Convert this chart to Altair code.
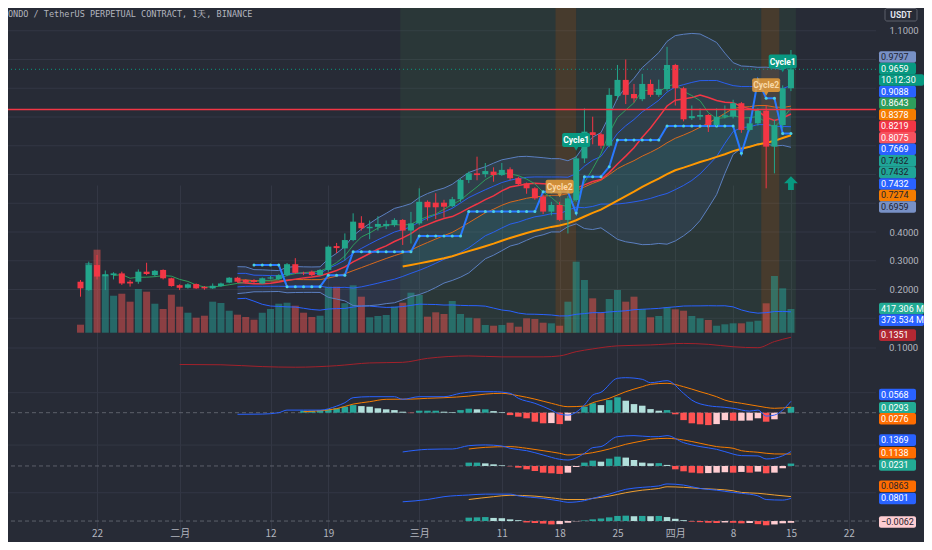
import altair as alt
import pandas as pd

# ------------------------------------------------------------------ data
TITLE = "ONDO / TetherUS PERPETUAL CONTRACT, 1天, BINANCE"
CURRENCY = "USDT"

opens = [0.227, 0.198, 0.285, 0.246, 0.250, 0.256, 0.227, 0.227, 0.262, 0.250,
         0.268, 0.239, 0.215, 0.206, 0.219, 0.209, 0.204, 0.212, 0.224, 0.241,
         0.233, 0.232, 0.221, 0.238, 0.236, 0.250, 0.288, 0.258, 0.262, 0.250,
         0.268, 0.351, 0.343, 0.372, 0.432, 0.413, 0.418, 0.420, 0.424, 0.442,
         0.405, 0.430, 0.505, 0.502, 0.502, 0.490, 0.514, 0.581, 0.604, 0.601,
         0.610, 0.598, 0.618, 0.587, 0.569, 0.552, 0.523, 0.471, 0.494, 0.442,
         0.511, 0.656, 0.747, 0.740, 0.700, 0.873, 0.929, 0.880, 0.862, 0.915,
         0.877, 0.897, 0.981, 0.900, 0.796, 0.801, 0.807, 0.772, 0.801, 0.801,
         0.848, 0.755, 0.778, 0.822, 0.697, 0.772, 0.900]
closes = [0.204, 0.285, 0.245, 0.253, 0.256, 0.221, 0.221, 0.262, 0.254, 0.265,
          0.239, 0.212, 0.206, 0.218, 0.204, 0.204, 0.213, 0.221, 0.241, 0.227,
          0.224, 0.226, 0.239, 0.242, 0.250, 0.288, 0.258, 0.256, 0.250, 0.268,
          0.349, 0.344, 0.372, 0.436, 0.413, 0.418, 0.428, 0.428, 0.442, 0.405,
          0.430, 0.505, 0.486, 0.486, 0.488, 0.514, 0.581, 0.604, 0.598, 0.612,
          0.598, 0.616, 0.587, 0.567, 0.552, 0.517, 0.471, 0.494, 0.442, 0.517,
          0.656, 0.749, 0.737, 0.700, 0.877, 0.929, 0.877, 0.865, 0.915, 0.877,
          0.897, 0.981, 0.900, 0.792, 0.803, 0.807, 0.772, 0.801, 0.806, 0.848,
          0.755, 0.778, 0.822, 0.697, 0.772, 0.900, 0.966]
highs = [0.233, 0.297, 0.320, 0.266, 0.260, 0.262, 0.233, 0.270, 0.293, 0.268,
         0.270, 0.241, 0.218, 0.222, 0.221, 0.212, 0.221, 0.224, 0.243, 0.244,
         0.236, 0.236, 0.242, 0.247, 0.253, 0.292, 0.309, 0.262, 0.266, 0.271,
         0.353, 0.362, 0.395, 0.465, 0.455, 0.440, 0.455, 0.440, 0.448, 0.445,
         0.470, 0.552, 0.510, 0.535, 0.512, 0.522, 0.586, 0.610, 0.662, 0.640,
         0.625, 0.640, 0.625, 0.592, 0.572, 0.556, 0.530, 0.505, 0.505, 0.525,
         0.665, 0.830, 0.801, 0.745, 0.900, 0.981, 1.000, 0.915, 0.950, 0.930,
         0.930, 1.044, 0.985, 0.905, 0.840, 0.830, 0.810, 0.830, 0.840, 0.860,
         0.852, 0.800, 0.830, 0.842, 0.790, 0.910, 1.033]
lows = [0.175, 0.195, 0.235, 0.198, 0.235, 0.216, 0.210, 0.220, 0.250, 0.245,
        0.235, 0.210, 0.198, 0.203, 0.202, 0.199, 0.202, 0.209, 0.222, 0.224,
        0.221, 0.222, 0.219, 0.235, 0.233, 0.246, 0.255, 0.250, 0.246, 0.248,
        0.262, 0.327, 0.302, 0.368, 0.405, 0.375, 0.405, 0.410, 0.418, 0.355,
        0.360, 0.425, 0.440, 0.445, 0.450, 0.486, 0.505, 0.570, 0.580, 0.590,
        0.575, 0.595, 0.580, 0.562, 0.533, 0.512, 0.462, 0.458, 0.438, 0.395,
        0.505, 0.640, 0.705, 0.690, 0.695, 0.860, 0.845, 0.850, 0.855, 0.870,
        0.870, 0.890, 0.840, 0.785, 0.790, 0.790, 0.748, 0.768, 0.795, 0.795,
        0.745, 0.750, 0.770, 0.552, 0.604, 0.760, 0.890]
volumes = [141, 1227, 1461, 1021, 651, 686, 546, 769, 722, 510,
           417, 669, 458, 352, 264, 299, 546, 523, 387, 317,
           276, 229, 352, 417, 510, 528, 475, 352, 276, 299,
           810, 810, 519, 834, 634, 271, 294, 312, 458, 528,
           704, 664, 282, 359, 329, 558, 329, 264, 253, 136,
           123, 136, 176, 106, 253, 241, 176, 165, 123, 546,
           1250, 928, 605, 352, 593, 752, 546, 634, 417, 271,
           294, 447, 412, 387, 294, 253, 224, 123, 148, 165,
           165, 194, 211, 517, 998, 781, 417.3]

date_ticks = [2, 12, 23, 30, 41, 51, 58, 65, 72, 79, 86, 93]
date_labels = ["22", "二月", "12", "19", "三月", "11", "18", "25", "四月", "8", "15", "22"]
price_ticks = [0.1, 0.2, 0.3, 0.4, 0.5, 0.6, 0.7, 0.8, 0.9, 1.0, 1.1]
price_labels_shown = [0.2, 0.3, 0.4, 1.1]

band_start = [38.7, 57.5, 60.0, 82.4, 84.6]
band_end = [57.5, 60.0, 82.4, 84.6, 86.6]
band_kind = ["cycle", "turn", "cycle", "turn", "cycle"]

step_first = 21
step_values = [0.285, 0.285, 0.285, 0.285, 0.210, 0.210, 0.210, 0.210, 0.210,
               0.250, 0.250, 0.250, 0.331, 0.331, 0.331, 0.331, 0.331, 0.331,
               0.331, 0.331, 0.386, 0.386, 0.386, 0.386, 0.386, 0.386, 0.471,
               0.471, 0.471, 0.471, 0.471, 0.471, 0.471, 0.471, 0.471, 0.540,
               0.540, 0.540, 0.540, 0.466, 0.592, 0.592, 0.592, 0.627, 0.720,
               0.720, 0.720, 0.720, 0.720, 0.720, 0.769, 0.769, 0.769, 0.769,
               0.769, 0.769, 0.769, 0.769, 0.769, 0.674, 0.766, 0.929, 0.865,
               0.865, 0.743, 0.743]

resistance_level = [0.826]
last_price = [0.9659]

cycle_text = ["Cycle1", "Cycle1", "Cycle2", "Cycle2"]
cycle_i = [60, 85, 58, 83]
cycle_price = [0.720, 0.993, 0.558, 0.911]

arrow_i = [86]
arrow_price = [0.57]

osc_i = [12, 17, 22, 26, 31, 35, 39, 42, 47, 51, 56, 58, 60, 62, 65, 69, 73, 76, 79, 82, 84, 86]
osc_v = [0.046, 0.045, 0.039, 0.037, 0.042, 0.051, 0.053, 0.066, 0.074, 0.071, 0.071,
         0.074, 0.088, 0.097, 0.107, 0.110, 0.115, 0.112, 0.104, 0.101, 0.121, 0.1351]
osc_grid = [0.1]

m1_hist_first = 27
m1_hist = [0.010, 0.010, 0.013, 0.018, 0.022, 0.030, 0.038, 0.033, 0.030, 0.022,
           0.017, 0.013, 0.005, -0.002, 0.010, 0.010, 0.010, 0.005, 0.003, 0.013,
           0.020, 0.017, 0.017, 0.008, 0.003, -0.012, -0.020, -0.028, -0.045, -0.053,
           -0.052, -0.057, -0.040, -0.002, 0.030, 0.047, 0.038, 0.063, 0.077, 0.060,
           0.043, 0.035, 0.018, 0.010, 0.013, -0.008, -0.037, -0.053, -0.058, -0.062,
           -0.057, -0.037, -0.040, -0.040, -0.039, -0.028, -0.045, -0.033, -0.003, 0.029]
m1_fast_i = [19, 22, 24, 25, 27, 29, 31, 32, 33, 35, 38, 39, 41, 44, 46, 48, 50, 52, 53, 55, 57,
             58, 59, 61, 62, 63, 65, 66, 68, 69, 71, 73, 74, 76, 78, 79, 81, 82, 83, 84, 86]
m1_fast_v = [-0.008, -0.007, 0.0, 0.013, 0.013, 0.013, 0.033, 0.05, 0.075, 0.08, 0.08,
             0.067, 0.08, 0.08, 0.097, 0.105, 0.105, 0.097, 0.072, 0.047, 0.013, -0.007,
             -0.012, 0.038, 0.088, 0.102, 0.172, 0.175, 0.167, 0.15, 0.16, 0.097, 0.063,
             0.035, 0.027, 0.022, 0.008, 0.013, -0.017, -0.012, 0.0568]
m1_slow_i = [27, 29, 31, 33, 35, 37, 40, 42, 44, 47, 49, 51, 53, 55, 57, 59, 61, 62, 64, 66,
             68, 69, 71, 73, 75, 77, 78, 80, 82, 84, 86]
m1_slow_v = [0.005, 0.01, 0.02, 0.043, 0.055, 0.067, 0.068, 0.072, 0.075, 0.083, 0.093,
             0.097, 0.085, 0.068, 0.047, 0.03, 0.033, 0.05, 0.072, 0.105, 0.13, 0.142,
             0.147, 0.13, 0.105, 0.08, 0.063, 0.047, 0.033, 0.022, 0.0276]
m1_grid = [0.1]

m2_hist_first = 47
m2_hist = [0.032, 0.032, 0.025, 0.016, 0.006, -0.003, -0.016, -0.032, -0.048, -0.064,
           -0.070, -0.076, -0.064, -0.010, 0.032, 0.051, 0.041, 0.070, 0.089, 0.080,
           0.057, 0.032, 0.025, 0.027, 0.010, -0.032, -0.051, -0.064, -0.070, -0.068,
           -0.064, -0.060, -0.064, -0.057, -0.064, -0.054, -0.070, -0.064, -0.022, 0.0231]
m2_fast_i = [39, 42, 44, 45, 47, 49, 51, 52, 54, 56, 58, 59, 61, 62, 63, 65, 67, 69, 70, 71,
             73, 75, 77, 78, 80, 82, 83, 84, 86]
m2_fast_v = [0.134, 0.159, 0.162, 0.162, 0.194, 0.201, 0.191, 0.169, 0.146, 0.105, 0.064,
             0.057, 0.121, 0.175, 0.185, 0.280, 0.290, 0.280, 0.280, 0.290, 0.223, 0.185,
             0.159, 0.137, 0.099, 0.096, 0.067, 0.073, 0.1369]
m2_slow_i = [47, 49, 52, 54, 56, 58, 59, 61, 62, 64, 66, 68, 69, 71, 73, 75, 77, 79, 80, 82, 84, 86]
m2_slow_v = [0.162, 0.178, 0.185, 0.169, 0.146, 0.121, 0.105, 0.115, 0.127, 0.162, 0.207,
             0.239, 0.255, 0.264, 0.248, 0.217, 0.185, 0.169, 0.146, 0.131, 0.115, 0.1138]
m2_grid = [0.2]

m3_hist_first = 47
m3_hist = [0.012, 0.013, 0.014, 0.011, 0.010, 0.006, 0.003, -0.005, -0.007, -0.009,
           -0.012, -0.011, -0.006, -0.001, 0.002, 0.006, 0.009, 0.013, 0.018, 0.019,
           0.017, 0.018, 0.017, 0.018, 0.014, 0.008, 0.003, -0.002, -0.004, -0.006,
           -0.007, -0.005, -0.006, -0.008, -0.007, -0.011, -0.015, -0.012, -0.008, -0.0062]
m3_fast_i = [39, 42, 44, 47, 49, 52, 53, 56, 58, 59, 61, 62, 64, 66, 68, 70, 71, 73, 75, 77,
             79, 80, 82, 83, 85, 86]
m3_fast_v = [0.068, 0.076, 0.086, 0.092, 0.095, 0.095, 0.089, 0.08, 0.071, 0.066, 0.072,
             0.08, 0.095, 0.112, 0.119, 0.124, 0.131, 0.127, 0.115, 0.109, 0.101, 0.098,
             0.089, 0.076, 0.074, 0.0801]
m3_slow_i = [47, 50, 52, 55, 57, 59, 61, 62, 64, 66, 68, 70, 71, 73, 75, 77, 79, 80, 82, 84, 86]
m3_slow_v = [0.076, 0.086, 0.091, 0.088, 0.082, 0.076, 0.076, 0.08, 0.088, 0.1, 0.109,
             0.115, 0.121, 0.119, 0.115, 0.112, 0.107, 0.101, 0.098, 0.092, 0.0863]
m3_grid = [0.1]

tag_text = ["0.9797", "0.9659", "10:12:30", "0.9088", "0.8643", "0.8378", "0.8219",
            "0.8075", "0.7669", "0.7432", "0.7432", "0.7432", "0.7274", "0.6959",
            "417.306 M", "373.534 M", "0.1351", "0.0568", "0.0293", "0.0276",
            "0.1369", "0.1138", "0.0231", "0.0863", "0.0801", "\u22120.0062"]
tag_row = [0, 1, 2, 3, 4, 5, 6, 7, 8, 9, 10, 11, 12, 13,
           21.8, 22.8, 24.1, 29.25, 30.4, 31.35, 33.2, 34.3, 35.35, 37.2, 38.25, 40.3]
tag_bg = ["#7891c6", "#089981", "#089981", "#2962ff", "#2e9d5c", "#f57c00", "#f23645",
          "#f7525f", "#2962ff", "#1fa597", "#1fa597", "#2962ff", "#f57c00", "#7891c6",
          "#22ab94", "#2962ff", "#b22833", "#2962ff", "#22ab94", "#ff6d00",
          "#2962ff", "#ff6d00", "#22ab94", "#ff6d00", "#2962ff", "#ffcdd2"]
tag_fg = ["#1e222d", "#ffffff", "#ffffff", "#ffffff", "#ffffff", "#ffffff", "#ffffff",
          "#ffffff", "#ffffff", "#1e222d", "#1e222d", "#ffffff", "#1e222d", "#1e222d",
          "#ffffff", "#ffffff", "#ffffff", "#ffffff", "#ffffff", "#ffffff",
          "#ffffff", "#ffffff", "#ffffff", "#1e222d", "#ffffff", "#1e222d"]

# ------------------------------------------------------------------ styling
BG = "#272b36"
GRID = "#333744"
AXTXT = "#b2b5be"
FONT = "Roboto"
UP, DN = "#22a68b", "#f23645"
W, H = 868, 516

XS = alt.Scale(domain=[-8.173, 95.69], nice=False, zero=False)
label_expr = ("[" + ",".join("'%s'" % s for s in date_labels) + "][indexof(["
              + ",".join(str(v) for v in date_ticks) + "], datum.value)]")
XAX = alt.Axis(values=date_ticks, labelExpr=label_expr, grid=True, gridColor=GRID,
               domain=False, ticks=False, tickSize=0, labelColor=AXTXT,
               labelFont="Noto Sans CJK SC", labelFontSize=10, labelPadding=4,
               title=None, labelFlush=False, labelOverlap=False)


def X(f):
    return alt.X(f"{f}:Q", scale=XS, axis=XAX)


def sc(domain, rng):
    return alt.Scale(domain=domain, range=rng, nice=False, zero=False)


def Y(f, s):
    return alt.Y(f"{f}:Q", scale=s, axis=None)


PS = sc([0, 1.2], [339, -6])
VS = sc([0, 1760], [324.7, 224.7])
P2 = sc([0, 0.2], [370.5, 309.5])
P3 = sc([-0.1, 0.2], [424.7, 364.7])
P4 = sc([-0.2, 0.4], [478.9, 416.1])
P5 = sc([-0.05, 0.2], [527.2, 456.4])
SS = sc([0, 40], [49, 510.6])
srt = [alt.SortField("i", order="ascending")]

df = pd.DataFrame({"i": list(range(len(opens))), "o": opens, "h": highs, "l": lows,
                   "c": closes, "v": volumes})
base = alt.Chart(df).transform_calculate(
    dir="datum.c >= datum.o ? 'up' : 'down'", zero="0")
dir_color = alt.Color("dir:N", scale=alt.Scale(domain=["up", "down"], range=[UP, DN]), legend=None)
vol_color = alt.Color("dir:N", scale=alt.Scale(domain=["up", "down"], range=["#26a69a", "#ef5350"]), legend=None)

layers = []

# horizontal price grid
layers.append(alt.Chart(pd.DataFrame({"p": price_ticks})).mark_rule(color=GRID, strokeWidth=1).encode(
    y=Y("p", PS)))

# background cycle bands
band_df = pd.DataFrame({"s": band_start, "e": band_end, "k": band_kind})
layers.append(alt.Chart(band_df).mark_rect().encode(
    x=X("s"), x2="e:Q", y=alt.value(0), y2=alt.value(325),
    color=alt.Color("k:N", scale=alt.Scale(domain=["cycle", "turn"], range=["#4caf50", "#ff9800"]), legend=None),
    opacity=alt.Opacity("k:N", scale=alt.Scale(domain=["cycle", "turn"], range=[0.09, 0.15]), legend=None)))

# indicators
ind = (alt.Chart(df)
       .transform_window(sma5="mean(c)", frame=[-4, 0], sort=srt)
       .transform_window(sma12="mean(c)", frame=[-11, 0], sort=srt)
       .transform_window(sma20="mean(c)", sd20="stdevp(c)", frame=[-19, 0], sort=srt)
       .transform_window(sma40="mean(c)", frame=[-39, 0], sort=srt)
       .transform_window(vma="mean(v)", frame=[-19, 0], sort=srt)
       .transform_calculate(u2="datum.sma20 + 2*datum.sd20", l2="datum.sma20 - 2*datum.sd20",
                            u1="datum.sma20 + datum.sd20", l1="datum.sma20 - datum.sd20"))
ind19 = ind.transform_filter("datum.i >= 19")
ind39 = ind.transform_filter("datum.i >= 39")

layers.append(ind19.mark_area(color="#4f73b3", opacity=0.15).encode(x=X("i"), y=Y("u2", PS), y2="l2:Q"))
layers.append(ind39.mark_area(color="#26a69a", opacity=0.13).encode(x=X("i"), y=Y("sma20", PS), y2="sma40:Q"))

# volume
layers.append(base.mark_bar(size=7, opacity=0.5).encode(x=X("i"), y=Y("v", VS), y2="zero:Q", color=vol_color))
layers.append(ind19.mark_line(color="#2962ff", strokeWidth=1).encode(x=X("i"), y=Y("vma", VS)))

# bands / averages
layers.append(ind19.transform_fold(["u2", "l2"], as_=["k", "val"]).mark_line(
    color="#5b7fc0", strokeWidth=1).encode(x=X("i"), y=Y("val", PS), detail="k:N"))
layers.append(ind19.transform_fold(["u1", "l1"], as_=["k", "val"]).mark_line(
    color="#2962ff", strokeWidth=1, opacity=0.9).encode(x=X("i"), y=Y("val", PS), detail="k:N"))
layers.append(ind19.mark_line(color="#d9691c", strokeWidth=1).encode(x=X("i"), y=Y("sma20", PS)))
layers.append(ind39.mark_line(color="#ff9800", strokeWidth=2).encode(x=X("i"), y=Y("sma40", PS)))
layers.append(ind19.mark_line(color="#f23645", strokeWidth=1.5).encode(x=X("i"), y=Y("sma12", PS)))
layers.append(ind.transform_filter("datum.i >= 4").mark_line(color="#2e9d5c", strokeWidth=1).encode(
    x=X("i"), y=Y("sma5", PS)))

# stepped cycle line
step_df = pd.DataFrame({"i": list(range(step_first, step_first + len(step_values))), "s": step_values})
layers.append(alt.Chart(step_df).mark_line(color="#2979ff", strokeWidth=2).encode(x=X("i"), y=Y("s", PS)))
layers.append(alt.Chart(step_df).mark_point(filled=True, size=9, color="#4dd0e1", opacity=1).encode(
    x=X("i"), y=Y("s", PS)))

# candles
price_axis = alt.Axis(orient="right", values=price_labels_shown, format=".4f", grid=False,
                      domain=False, ticks=False, tickSize=0, labelColor=AXTXT, labelFont=FONT,
                      labelFontSize=9.5, labelPadding=13, title=None, labelOverlap=False,
                      labelFlush=False)
layers.append(base.mark_rule(strokeWidth=1).encode(x=X("i"), y=Y("l", PS), y2="h:Q", color=dir_color))
layers.append(base.mark_bar(size=6).encode(
    x=X("i"), y=alt.Y("o:Q", scale=PS, axis=price_axis), y2="c:Q", color=dir_color))

# horizontal lines
layers.append(alt.Chart(pd.DataFrame({"p": resistance_level})).mark_rule(
    color="#f23645", stroke="#f23645", strokeWidth=1.5).encode(y=Y("p", PS)))
layers.append(alt.Chart(pd.DataFrame({"p": last_price})).mark_rule(
    color="#089981", stroke="#089981", strokeWidth=1, strokeDash=[1, 3]).encode(y=Y("p", PS)))

# cycle labels
cyc = alt.Chart(pd.DataFrame({"t": cycle_text, "i": cycle_i, "p": cycle_price})).transform_calculate(
    lo="datum.p - 0.024", hi="datum.p + 0.024", tip="datum.p - 0.030")
cyc_fill = alt.Color("t:N", scale=alt.Scale(domain=["Cycle1", "Cycle2"], range=["#089981", "#e89c3a"]), legend=None)
cyc_op = alt.Opacity("t:N", scale=alt.Scale(domain=["Cycle1", "Cycle2"], range=[1.0, 0.85]), legend=None)
layers.append(cyc.mark_bar(size=28, cornerRadius=2).encode(x=X("i"), y=Y("lo", PS), y2="hi:Q",
                                                           color=cyc_fill, opacity=cyc_op))
layers.append(cyc.mark_point(shape="triangle-down", filled=True, size=22).encode(
    x=X("i"), y=Y("tip", PS), color=cyc_fill, opacity=cyc_op))
layers.append(cyc.mark_text(font=FONT, fontSize=8.5, fontWeight="bold").encode(
    x=X("i"), y=Y("p", PS), text="t:N",
    color=alt.Color("t:N", scale=alt.Scale(domain=["Cycle1", "Cycle2"], range=["#ffffff", "#f9d9a6"]), legend=None)))

ARROW = "M0,-1L1,0L0.42,0L0.42,1L-0.42,1L-0.42,0L-1,0Z"
layers.append(alt.Chart(pd.DataFrame({"i": arrow_i, "p": arrow_price})).mark_point(
    shape=ARROW, size=190, filled=True, color="#089981", opacity=1).encode(x=X("i"), y=Y("p", PS)))


# ---------------- lower panes
def rules(values, scale, dashed=False):
    mk = dict(color="#5d606b", strokeWidth=1, strokeDash=[4, 3]) if dashed else dict(color=GRID, strokeWidth=1)
    return alt.Chart(pd.DataFrame({"v": values})).mark_rule(**mk).encode(y=Y("v", scale))


def pline(idx, vals, scale, color):
    return alt.Chart(pd.DataFrame({"i": idx, "v": vals})).mark_line(
        color=color, strokeWidth=1, interpolate="monotone").encode(x=X("i"), y=Y("v", scale))


hist_color = alt.Color("cat:N", scale=alt.Scale(domain=["pu", "pd", "nd", "nu"],
                                                range=["#26a69a", "#b2dfdb", "#ff5252", "#ffcdd2"]), legend=None)


def hist(first, vals, scale):
    d = pd.DataFrame({"i": list(range(first, first + len(vals))), "h": vals})
    return (alt.Chart(d)
            .transform_window(prev="lag(h)", sort=srt)
            .transform_calculate(
                zero="0",
                cat="datum.h >= 0 ? ((datum.prev == null || datum.h >= datum.prev) ? 'pu' : 'pd')"
                    " : ((datum.prev == null || datum.h < datum.prev) ? 'nd' : 'nu')")
            .mark_bar(size=6.5)
            .encode(x=X("i"), y=Y("h", scale), y2="zero:Q", color=hist_color))


for values, scale in [(osc_grid, P2), (m1_grid, P3), (m2_grid, P4), (m3_grid, P5)]:
    layers.append(rules(values, scale))
for scale in [P3, P4, P5]:
    layers.append(rules([0], scale, dashed=True))

# pane 2 scale label
layers.append(alt.Chart(pd.DataFrame({"v": osc_grid})).mark_text(
    align="left", baseline="middle", font=FONT, fontSize=9.5, color=AXTXT).encode(
    x=alt.value(881), y=Y("v", P2), text=alt.Text("v:Q", format=".4f")))

layers.append(pline(osc_i, osc_v, P2, "#a3212b"))

layers.append(hist(m1_hist_first, m1_hist, P3))
layers.append(pline(m1_slow_i, m1_slow_v, P3, "#f57c00"))
layers.append(pline(m1_fast_i, m1_fast_v, P3, "#2962ff"))

layers.append(hist(m2_hist_first, m2_hist, P4))
layers.append(pline(m2_slow_i, m2_slow_v, P4, "#f57c00"))
layers.append(pline(m2_fast_i, m2_fast_v, P4, "#2962ff"))

layers.append(hist(m3_hist_first, m3_hist, P5))
layers.append(pline(m3_slow_i, m3_slow_v, P5, "#f0a030"))
layers.append(pline(m3_fast_i, m3_fast_v, P5, "#2962ff"))

# ---------------- right-hand value tags
tag_df = pd.DataFrame({"t": tag_text, "s": tag_row, "bg": tag_bg, "fg": tag_fg})
tags = alt.Chart(tag_df).transform_calculate(top="datum.s - 0.5", bot="datum.s + 0.5")
layers.append(tags.transform_filter("length(datum.t) <= 7").mark_rect(cornerRadius=2).encode(
    x=alt.value(871), x2=alt.value(908), y=Y("top", SS), y2="bot:Q", color=alt.Color("bg:N", scale=None)))
layers.append(tags.transform_filter("length(datum.t) > 7").mark_rect(cornerRadius=2).encode(
    x=alt.value(871), x2=alt.value(916), y=Y("top", SS), y2="bot:Q", color=alt.Color("bg:N", scale=None)))
layers.append(alt.Chart(tag_df).mark_text(align="left", baseline="middle", font=FONT, fontSize=9).encode(
    x=alt.value(873), y=Y("s", SS), text="t:N", color=alt.Color("fg:N", scale=None)))

# ---------------- title and currency box
layers.append(alt.Chart(pd.DataFrame({"t": [TITLE]})).mark_text(
    align="left", baseline="middle", font="DejaVu Sans Mono", fontSize=8.5, color=AXTXT).encode(
    x=alt.value(0), y=alt.value(6), text="t:N"))
layers.append(alt.Chart(pd.DataFrame({"t": [CURRENCY]})).mark_rect(
    fill=BG, stroke="#5d606b", strokeWidth=1, cornerRadius=2).encode(
    x=alt.value(877), x2=alt.value(909), y=alt.value(0.5), y2=alt.value(13)))
layers.append(alt.Chart(pd.DataFrame({"t": [CURRENCY]})).mark_text(
    align="center", baseline="middle", font=FONT, fontSize=8.5, fontWeight="bold", color="#e0e3eb").encode(
    x=alt.value(893), y=alt.value(7), text="t:N"))

chart = (alt.layer(*layers)
         .resolve_scale(y="independent", color="independent", opacity="independent")
         .properties(width=W, height=H, autosize="none",
                     padding={"left": 0, "top": 0, "right": 48, "bottom": 18},
                     background=BG)
         .configure_view(stroke=None))

chart.save("out.html", embed_options={"renderer": "svg", "actions": False})
